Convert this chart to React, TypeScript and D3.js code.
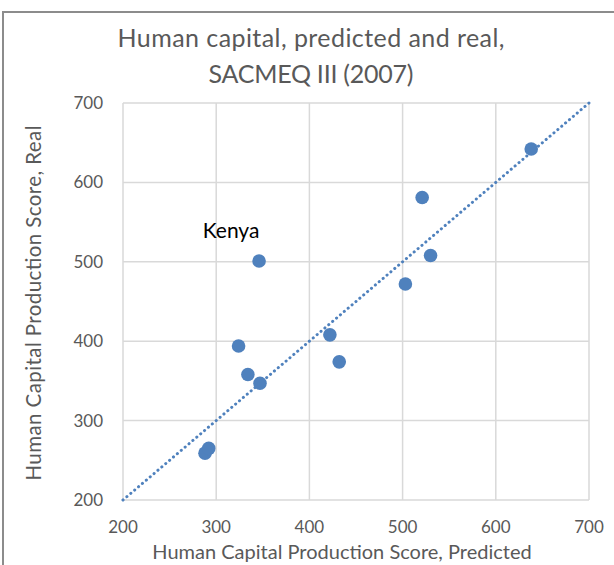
import * as React from 'react';
import * as d3 from 'd3';

const predicted = [288, 292, 346, 324, 334, 347, 422, 432, 503, 530, 521, 638];
const real = [259, 265, 501, 394, 358, 347, 408, 374, 472, 508, 581, 642];
const labels = ['', '', 'Kenya', '', '', '', '', '', '', '', '', ''];
const ticks = [200, 300, 400, 500, 600, 700];

const W = 614;
const H = 565;
const FONT = 'Lato, "Open Sans", sans-serif';
const GRAY = '#595959';
const BLUE = '#4f81bd';

export default function App() {
  const x = d3.scaleLinear().domain([200, 700]).range([123, 589]);
  const y = d3.scaleLinear().domain([200, 700]).range([500, 103]);

  const line = d3.line<number>().x(d => x(d)).y(d => y(d));

  return (
    <svg width={W} height={H} style={{position: 'absolute', left: 0, top: 0, fontFamily: FONT}}>
      <rect x={0} y={0} width={W} height={H} fill="#fff"/>
      <rect x={3} y={12} width={W + 10} height={H + 10} fill="none" stroke="#8c8c8c" strokeWidth={2}/>

      <text x={311} y={47} textAnchor="middle" fontSize={25} fill={GRAY}
        textLength={387} lengthAdjust="spacing">Human capital, predicted and real,</text>
      <text x={311} y={83} textAnchor="middle" fontSize={25} fill={GRAY}
        textLength={205} lengthAdjust="spacing">SACMEQ III (2007)</text>

      {/* gridlines */}
      {ticks.map(t => (
        <line key={'gx' + t} x1={x(t)} x2={x(t)} y1={y(700)} y2={y(200)} stroke="#d9d9d9" strokeWidth={1.5}/>
      ))}
      {ticks.map(t => (
        <line key={'gy' + t} x1={x(200)} x2={x(700)} y1={y(t)} y2={y(t)} stroke="#d9d9d9" strokeWidth={1.5}/>
      ))}

      {ticks.map(t => (
        <text key={'ty' + t} x={103} y={y(t)} dy="0.35em" textAnchor="end" fontSize={17} fill={GRAY}>{t}</text>
      ))}
      {ticks.map(t => (
        <text key={'tx' + t} x={x(t)} y={533} textAnchor="middle" fontSize={17} fill={GRAY}>{t}</text>
      ))}

      <text x={342} y={559} textAnchor="middle" fontSize={20} fill={GRAY}>Human Capital Production Score, Predicted</text>
      <text transform={`translate(41,303) rotate(-90)`} textAnchor="middle" fontSize={20.5} fill={GRAY}
        textLength={355} lengthAdjust="spacing">
        Human Capital Production Score, Real
      </text>

      {/* trend line */}
      <path d={line([200, 700]) || ''} fill="none" stroke={BLUE} strokeWidth={3}
        strokeDasharray="0.1 5" strokeLinecap="round"/>

      {predicted.map((p, i) => (
        <circle key={i} cx={x(p)} cy={y(real[i])} r={6.8} fill={BLUE}/>
      ))}
      {predicted.map((p, i) => labels[i] ? (
        <text key={'l' + i} x={x(p) - 28} y={y(real[i]) - 23} textAnchor="middle" fontSize={21} fill="#000">{labels[i]}</text>
      ) : null)}
    </svg>
  );
}
